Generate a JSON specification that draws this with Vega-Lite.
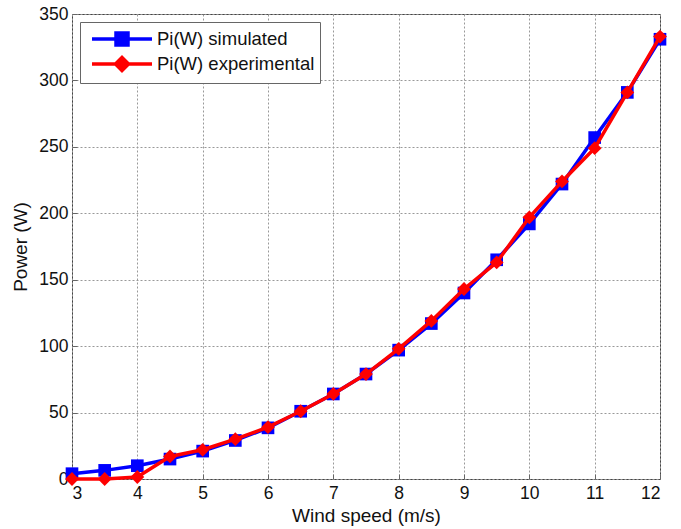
{
  "$schema": "https://vega.github.io/schema/vega-lite/v6.json",
  "width": 588,
  "height": 465,
  "autosize": {"type": "none"},
  "padding": {"left": 72, "top": 14, "right": 21, "bottom": 50},
  "background": "white",
  "config": {
    "font": "Liberation Sans",
    "view": {"stroke": "#444", "strokeWidth": 1},
    "axis": {
      "labelFont": "Liberation Sans",
      "titleFont": "Liberation Sans",
      "labelFontSize": 17.5,
      "titleFontSize": 19,
      "labelColor": "#111",
      "titleColor": "#111",
      "titleFontWeight": "normal",
      "domain": false,
      "gridColor": "#999",
      "gridDash": [2, 2],
      "gridOpacity": 1,
      "tickColor": "#666",
      "tickSize": -5
    }
  },
  "data": {
    "values": [
      {"speed": 3, "power": 4, "series": "Pi(W) simulated"},
      {"speed": 3.5, "power": 6.5, "series": "Pi(W) simulated"},
      {"speed": 4, "power": 10, "series": "Pi(W) simulated"},
      {"speed": 4.5, "power": 15, "series": "Pi(W) simulated"},
      {"speed": 5, "power": 21, "series": "Pi(W) simulated"},
      {"speed": 5.5, "power": 29, "series": "Pi(W) simulated"},
      {"speed": 6, "power": 38.5, "series": "Pi(W) simulated"},
      {"speed": 6.5, "power": 51, "series": "Pi(W) simulated"},
      {"speed": 7, "power": 64, "series": "Pi(W) simulated"},
      {"speed": 7.5, "power": 79, "series": "Pi(W) simulated"},
      {"speed": 8, "power": 97, "series": "Pi(W) simulated"},
      {"speed": 8.5, "power": 117, "series": "Pi(W) simulated"},
      {"speed": 9, "power": 140, "series": "Pi(W) simulated"},
      {"speed": 9.5, "power": 165, "series": "Pi(W) simulated"},
      {"speed": 10, "power": 192, "series": "Pi(W) simulated"},
      {"speed": 10.5, "power": 222, "series": "Pi(W) simulated"},
      {"speed": 11, "power": 257, "series": "Pi(W) simulated"},
      {"speed": 11.5, "power": 291, "series": "Pi(W) simulated"},
      {"speed": 12, "power": 331, "series": "Pi(W) simulated"},
      {"speed": 3, "power": 0, "series": "Pi(W) experimental"},
      {"speed": 3.5, "power": 0, "series": "Pi(W) experimental"},
      {"speed": 4, "power": 1.5, "series": "Pi(W) experimental"},
      {"speed": 4.5, "power": 17, "series": "Pi(W) experimental"},
      {"speed": 5, "power": 22, "series": "Pi(W) experimental"},
      {"speed": 5.5, "power": 30, "series": "Pi(W) experimental"},
      {"speed": 6, "power": 39, "series": "Pi(W) experimental"},
      {"speed": 6.5, "power": 51, "series": "Pi(W) experimental"},
      {"speed": 7, "power": 64, "series": "Pi(W) experimental"},
      {"speed": 7.5, "power": 79, "series": "Pi(W) experimental"},
      {"speed": 8, "power": 98, "series": "Pi(W) experimental"},
      {"speed": 8.5, "power": 119, "series": "Pi(W) experimental"},
      {"speed": 9, "power": 143, "series": "Pi(W) experimental"},
      {"speed": 9.5, "power": 163, "series": "Pi(W) experimental"},
      {"speed": 10, "power": 197, "series": "Pi(W) experimental"},
      {"speed": 10.5, "power": 224, "series": "Pi(W) experimental"},
      {"speed": 11, "power": 249, "series": "Pi(W) experimental"},
      {"speed": 11.5, "power": 291, "series": "Pi(W) experimental"},
      {"speed": 12, "power": 333, "series": "Pi(W) experimental"}
    ]
  },
  "encoding": {
    "x": {
      "field": "speed", "type": "quantitative",
      "scale": {"domain": [3, 12], "nice": false, "zero": false},
      "axis": {"values": [3,4,5,6,7,8,9,10,11,12], "title": "Wind speed (m/s)", "titlePadding": 5, "labelPadding": 10}
    },
    "y": {
      "field": "power", "type": "quantitative",
      "scale": {"domain": [0, 350], "nice": false},
      "axis": {"values": [0,50,100,150,200,250,300,350], "title": "Power (W)", "titlePadding": 8, "labelPadding": 9}
    },
    "color": {
      "field": "series", "type": "nominal",
      "scale": {"domain": ["Pi(W) simulated", "Pi(W) experimental"], "range": ["#0000ff", "#ff0000"]},
      "legend": {
        "title": null,
        "orient": "none",
        "legendX": 8,
        "legendY": 8,
        "strokeColor": "#666",
        "fillColor": "white",
        "padding": 5,
        "labelFontSize": 18.5,
        "labelFont": "Liberation Sans",
        "labelColor": "#111",
        "symbolSize": 400,
        "labelOffset": 48,
        "rowPadding": -3,
        "symbolStrokeWidth": 3.5,
        "encode": {
          "symbols": {
            "update": {
              "shape": {"signal": "datum.value === 'Pi(W) simulated' ? 'M-0.5,0H5.5M1.9,-0.6H3.1V0.6H1.9Z' : 'M-0.5,0H5.5M2.5,-0.65L3.15,0L2.5,0.65L1.85,0Z'"},
              "stroke": {"signal": "datum.value === 'Pi(W) simulated' ? '#0000ff' : '#ff0000'"},
              "fill": {"signal": "datum.value === 'Pi(W) simulated' ? '#0000ff' : '#ff0000'"},
              "strokeWidth": {"value": 3.5},
              "opacity": {"value": 1}
            }
          }
        }
      }
    }
  },
  "layer": [
    {
      "transform": [{"filter": "datum.series === 'Pi(W) simulated'"}],
      "mark": {"type": "line", "strokeWidth": 3.5, "point": {"filled": true, "shape": "square", "size": 160, "opacity": 1}}
    },
    {
      "transform": [{"filter": "datum.series === 'Pi(W) experimental'"}],
      "mark": {"type": "line", "strokeWidth": 3.5, "point": {"filled": true, "shape": "diamond", "size": 190, "opacity": 1}}
    }
  ]
}
